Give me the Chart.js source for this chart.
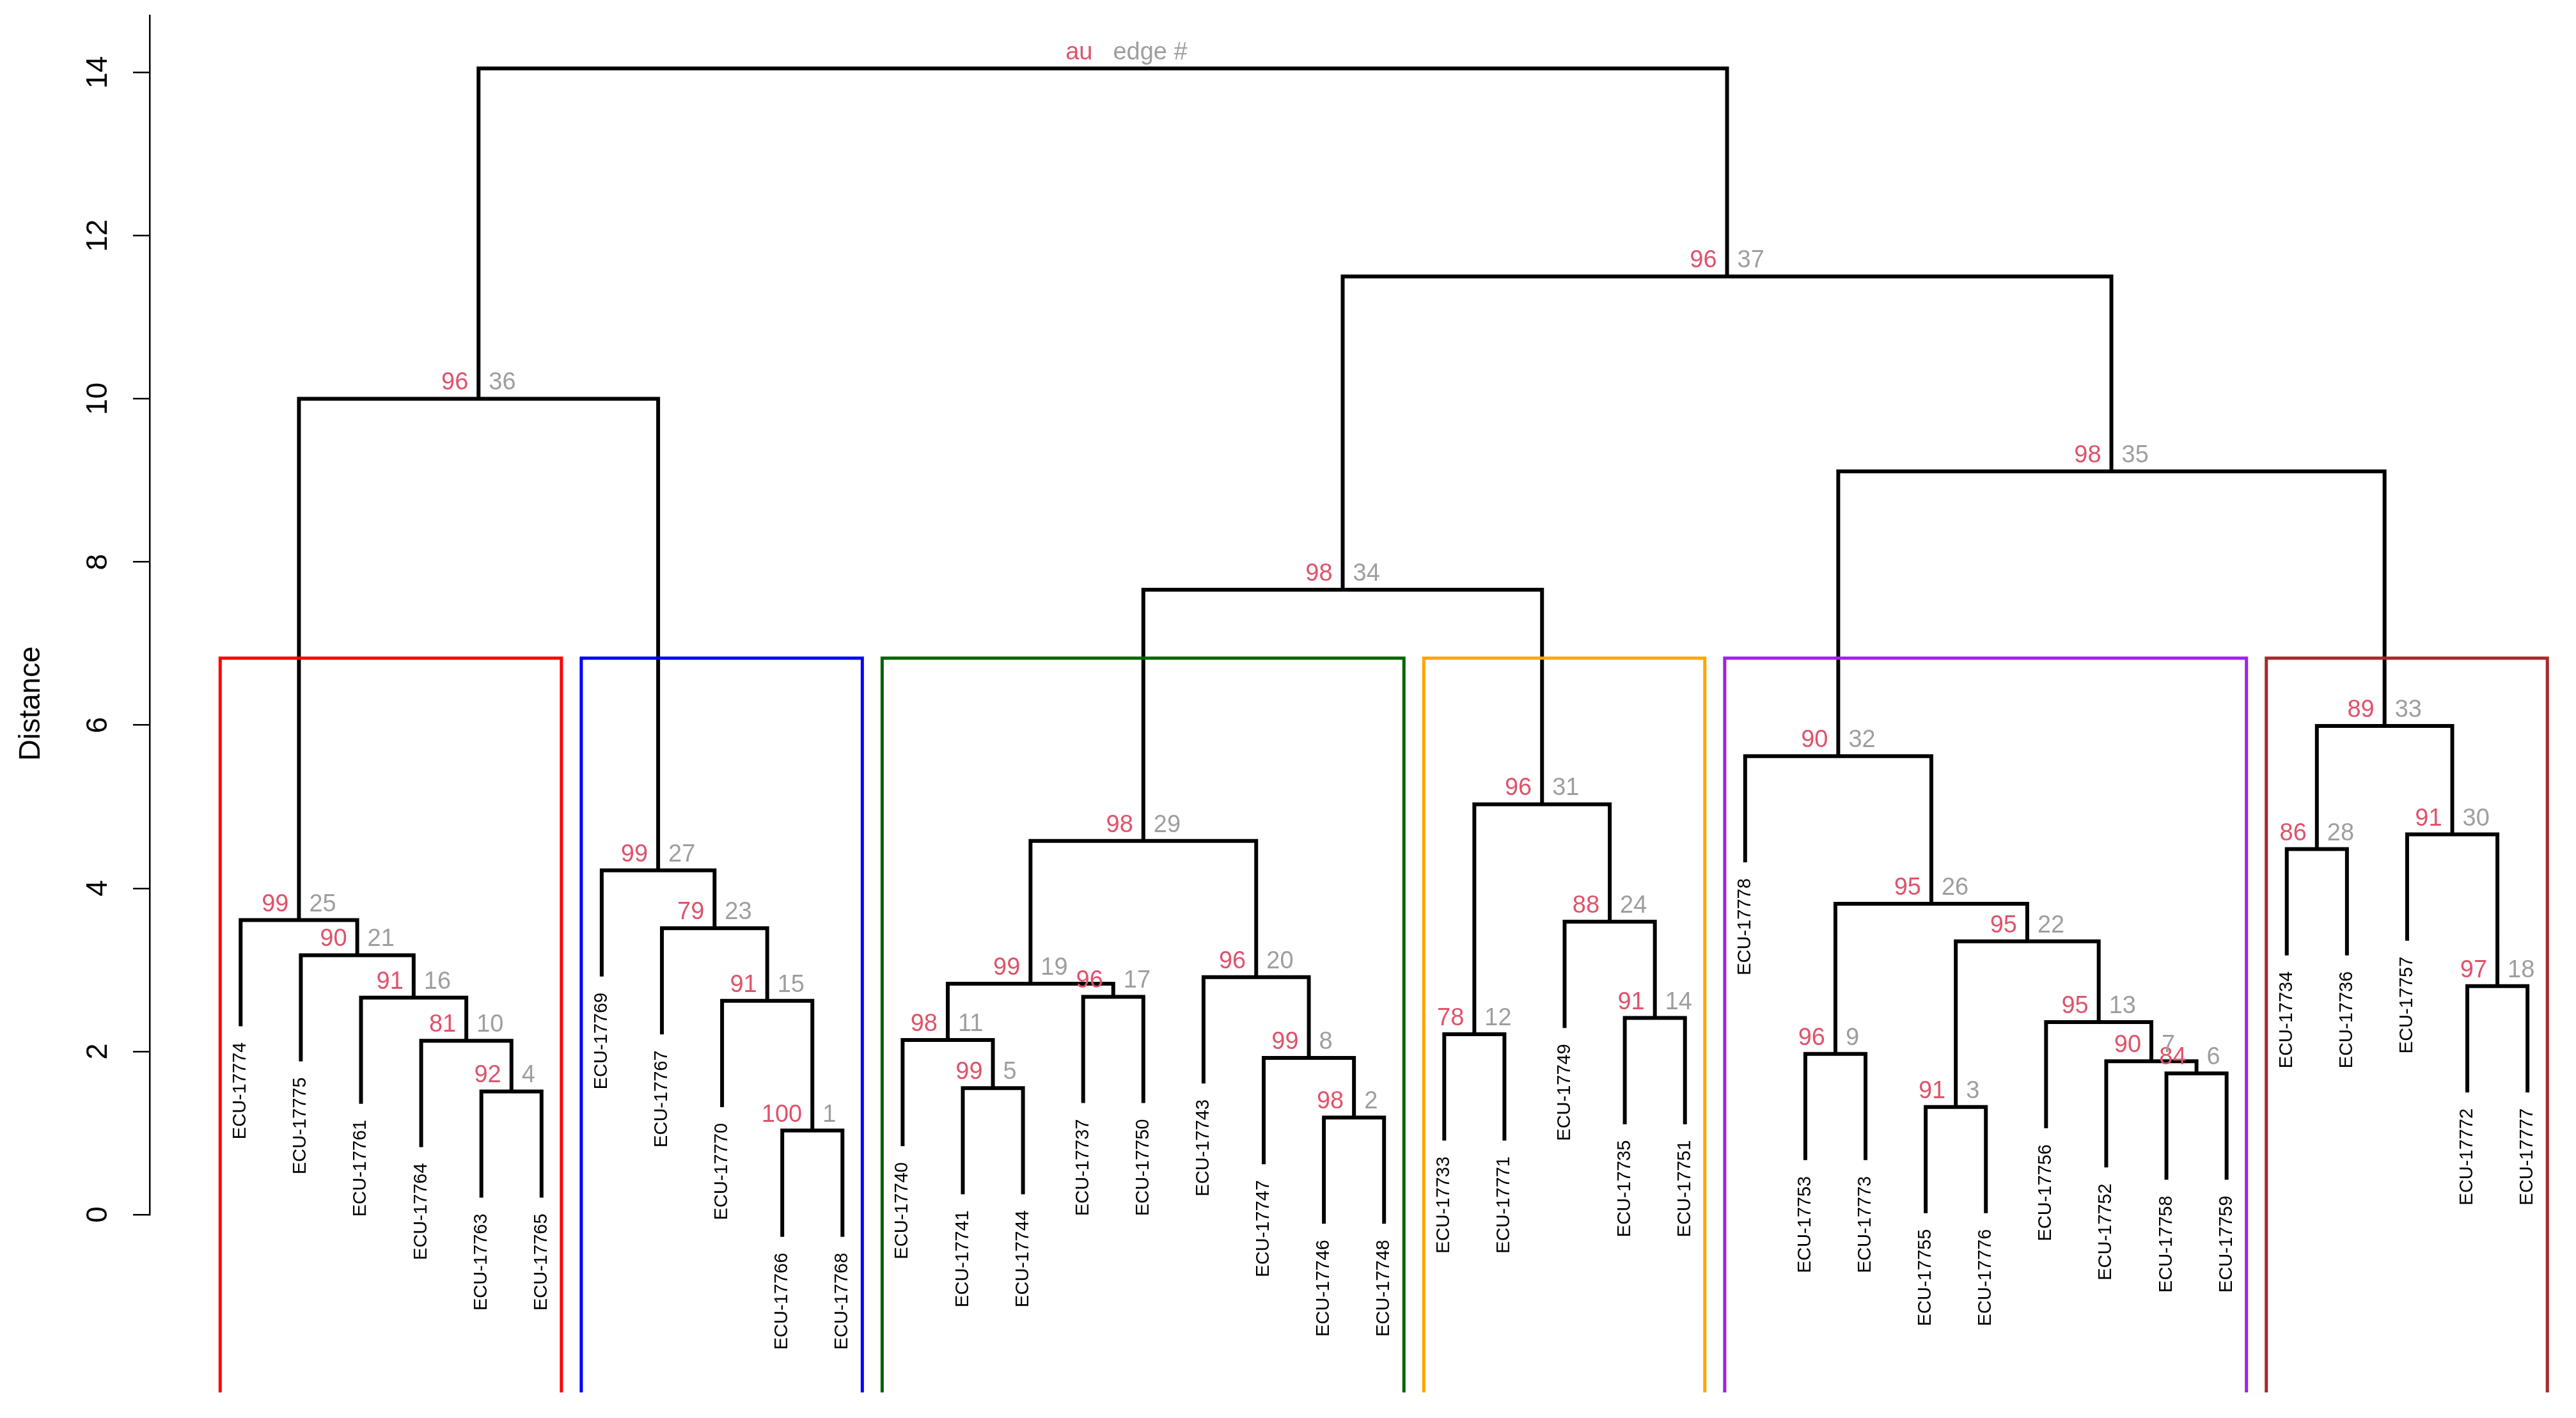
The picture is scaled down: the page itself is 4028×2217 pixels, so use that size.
<!DOCTYPE html>
<html>
<head>
<meta charset="utf-8">
<title>Dendrogram with AU p-values</title>
<script src="https://cdn.jsdelivr.net/npm/chart.js@4.4.1/dist/chart.umd.min.js"></script>
<style>
  html, body { margin: 0; padding: 0; background: #fff; }
  canvas { display: block; }
</style>
</head>
<body>
<canvas id="dendro" width="4028" height="2217"></canvas>
<script>
const FONT = '"Liberation Sans", Arial, sans-serif';

// leaves in plotting order
const leafLabels = [
  "ECU-17774", "ECU-17775", "ECU-17761", "ECU-17764", "ECU-17763", "ECU-17765",
  "ECU-17769", "ECU-17767", "ECU-17770", "ECU-17766", "ECU-17768",
  "ECU-17740", "ECU-17741", "ECU-17744", "ECU-17737", "ECU-17750", "ECU-17743", "ECU-17747", "ECU-17746", "ECU-17748",
  "ECU-17733", "ECU-17771", "ECU-17749", "ECU-17735", "ECU-17751",
  "ECU-17778", "ECU-17753", "ECU-17773", "ECU-17755", "ECU-17776", "ECU-17756", "ECU-17752", "ECU-17758", "ECU-17759",
  "ECU-17734", "ECU-17736", "ECU-17757", "ECU-17772", "ECU-17777"
];

// merges in edge order (hclust style: negative = leaf position, positive = earlier merge)
const mergeLeft  = [-10, -19, -29, -5, -13, -33, -32, -18, -27, -4, -12, -21, -31, -24, -9, -3, -15, -38, 11, -17,
                    -2, 3, -8, -23, -1, 9, -7, -35, 19, -37, 12, -26, 28, 29, 32, 25, 34, 36];
const mergeRight = [-11, -20, -30, -6, -14, -34, 6, 2, -28, 4, 5, -22, 7, -25, 1, 10, -16, -39, 17, 8,
                    16, 13, 15, 14, 21, 22, 23, -36, 20, 18, 24, 26, 30, 31, 33, 27, 35, 37];
const mergeHeights = [1.03, 1.19, 1.32, 1.51, 1.55, 1.73, 1.88, 1.92, 1.97, 2.13, 2.14, 2.21, 2.36, 2.41, 2.62, 2.66, 2.67, 2.80, 2.83, 2.91,
                      3.18, 3.35, 3.51, 3.59, 3.61, 3.81, 4.22, 4.48, 4.58, 4.66, 5.03, 5.62, 5.99, 7.66, 9.11, 10.0, 11.50, 14.05];
const auValues = [100, 98, 91, 92, 99, 84, 90, 99, 96, 81, 98, 78, 95, 91, 91, 91, 96, 97, 99, 96,
                  90, 95, 79, 88, 99, 95, 99, 86, 98, 91, 96, 90, 89, 98, 98, 96, 96];
const edgeNumbers = [1, 2, 3, 4, 5, 6, 7, 8, 9, 10, 11, 12, 13, 14, 15, 16, 17, 18, 19, 20,
                     21, 22, 23, 24, 25, 26, 27, 28, 29, 30, 31, 32, 33, 34, 35, 36, 37];

// rectangles around the 6 clusters
const clusterFirst = [1, 7, 12, 21, 26, 35];
const clusterLast = [6, 11, 20, 25, 34, 39];
const clusterColors = ["#ff0000", "#0000ff", "#006400", "#ffa500", "#a020f0", "#a52a2a"];
const cutHeight = 6.82;
const boxBottom = -2.18;

const yTicks = [0, 2, 4, 6, 8, 10, 12, 14];

// layout of the tree
const hang = 0.1 * (Math.max(...mergeHeights) - Math.min(...mergeHeights));
const nodeX = [];
const leafTips = [];
const childX = (id) => (id < 0 ? -id : nodeX[id - 1]);
const childY = (id, h) => (id < 0 ? h - hang : mergeHeights[id - 1]);

mergeHeights.forEach((h, i) => {
  const a = mergeLeft[i];
  const b = mergeRight[i];
  nodeX.push((childX(a) + childX(b)) / 2);
  if (a < 0) leafTips[-a - 1] = h - hang;
  if (b < 0) leafTips[-b - 1] = h - hang;
});

const treeSets = mergeHeights.map((h, i) => {
  const a = mergeLeft[i];
  const b = mergeRight[i];
  return {
    data: [
      { x: childX(a), y: childY(a, h) },
      { x: childX(a), y: h },
      { x: childX(b), y: h },
      { x: childX(b), y: childY(b, h) },
    ],
    borderColor: "#000",
    borderWidth: 6,
    order: 2,
  };
});

const boxSets = clusterFirst.map((first, i) => {
  const left = first - 0.34;
  const right = clusterLast[i] + 0.33;
  return {
    data: [
      { x: left, y: boxBottom },
      { x: left, y: cutHeight },
      { x: right, y: cutHeight },
      { x: right, y: boxBottom },
    ],
    borderColor: clusterColors[i],
    borderWidth: 5,
    order: 1,
  };
});

const labelPlugin = {
  id: "pvLabels",
  afterDatasetsDraw(chart) {
    const { ctx } = chart;
    const xs = chart.scales.x;
    const ys = chart.scales.y;
    ctx.save();

    // au / edge numbers
    ctx.font = `38px ${FONT}`;
    ctx.textBaseline = "alphabetic";
    mergeHeights.forEach((h, i) => {
      const px = xs.getPixelForValue(nodeX[i]);
      const py = ys.getPixelForValue(h) - 14;
      const isRoot = i === mergeHeights.length - 1;
      ctx.fillStyle = "#df536b";
      ctx.textAlign = "right";
      ctx.fillText(isRoot ? "au" : String(auValues[i]), px - 16, py);
      ctx.fillStyle = "#9e9e9e";
      ctx.textAlign = "left";
      ctx.fillText(isRoot ? "edge #" : String(edgeNumbers[i]), px + 16, py);
    });

    // leaf labels
    ctx.font = `29px ${FONT}`;
    ctx.fillStyle = "#000";
    ctx.textAlign = "right";
    ctx.textBaseline = "middle";
    leafLabels.forEach((label, i) => {
      ctx.save();
      ctx.translate(xs.getPixelForValue(i + 1), ys.getPixelForValue(leafTips[i]) + 25);
      ctx.rotate(-Math.PI / 2);
      ctx.fillText(label, 0, 0);
      ctx.restore();
    });

    // y tick labels
    ctx.font = `46px ${FONT}`;
    ctx.textAlign = "center";
    yTicks.forEach((v) => {
      ctx.save();
      ctx.translate(154, ys.getPixelForValue(v));
      ctx.rotate(-Math.PI / 2);
      ctx.fillText(String(v), 0, 0);
      ctx.restore();
    });

    // axis title
    ctx.save();
    ctx.translate(49, 1100);
    ctx.rotate(-Math.PI / 2);
    ctx.fillText("Distance", 0, 0);
    ctx.restore();

    ctx.restore();
  },
};

new Chart(document.getElementById("dendro"), {
  type: "scatter",
  data: { datasets: [...boxSets, ...treeSets] },
  options: {
    responsive: false,
    devicePixelRatio: 1,
    animation: false,
    events: [],
    layout: { padding: { top: 24, bottom: 318, left: 0, right: 0 } },
    datasets: {
      scatter: { showLine: true, clip: false, fill: false, tension: 0 },
    },
    elements: {
      point: { radius: 0, hoverRadius: 0 },
      line: { borderJoinStyle: "miter", borderCapStyle: "butt" },
    },
    plugins: {
      legend: { display: false },
      tooltip: { enabled: false },
    },
    scales: {
      x: {
        type: "linear",
        min: -0.512,
        max: 39.806,
        display: false,
      },
      y: {
        type: "linear",
        min: 0,
        max: 14.7,
        afterBuildTicks: (scale) => {
          scale.ticks = yTicks.map((v) => ({ value: v }));
        },
        afterFit: (scale) => {
          scale.width = 234;
        },
        ticks: { display: false },
        grid: {
          drawOnChartArea: false,
          drawTicks: true,
          tickLength: 26,
          lineWidth: 2.5,
          color: "#000",
        },
        border: { display: true, color: "#000", width: 2.5 },
      },
    },
  },
  plugins: [labelPlugin],
});
</script>
</body>
</html>
